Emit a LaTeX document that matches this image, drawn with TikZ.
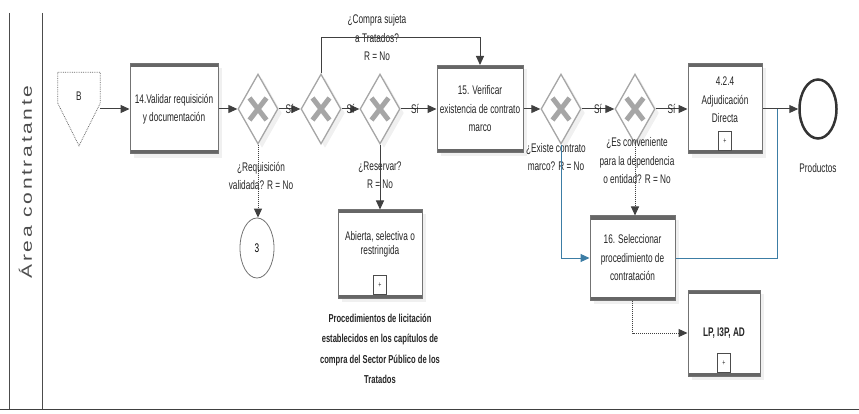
\documentclass[tikz,border=0pt]{standalone}
\usepackage{fontspec}
\setmainfont[FakeStretch=0.66]{Liberation Sans}
\newfontfamily\lanefont[LetterSpace=18,FakeStretch=1.4]{Liberation Sans}
\usetikzlibrary{arrows.meta,shapes.geometric,shadows,positioning}

\newcommand\bpmnfont{\fontsize{12.5}{18.5}\selectfont}
\definecolor{lineblue}{RGB}{60,125,165}

\tikzset{
  task/.style={draw=black!55, line width=1pt, fill=white, align=center, inner sep=2pt,
    font=\bpmnfont, text=black!85,
    drop shadow={opacity=0.12, shadow xshift=4pt, shadow yshift=-4pt},
    path picture={
      \fill[black!60] (path picture bounding box.north west) rectangle ([yshift=-3.5pt]path picture bounding box.north east);
      \fill[black!60] (path picture bounding box.south west) rectangle ([yshift=3.5pt]path picture bounding box.south east);
    }},
  subp/.style={draw=black!70, line width=1.3pt, fill=white, minimum width=13pt, minimum height=19pt,
    inner sep=0pt, anchor=south, font=\footnotesize, text=black!80},
  gate/.style={diamond, draw=black!35, line width=1.3pt, fill=white, minimum width=40pt, minimum height=70pt,
    inner sep=0pt, drop shadow={opacity=0.12, shadow xshift=4pt, shadow yshift=-4pt},
    path picture={
      \draw[black!35, line width=5pt] ([xshift=-8.5pt,yshift=-11pt]path picture bounding box.center) -- ([xshift=8.5pt,yshift=11pt]path picture bounding box.center);
      \draw[black!35, line width=5pt] ([xshift=-8.5pt,yshift=11pt]path picture bounding box.center) -- ([xshift=8.5pt,yshift=-11pt]path picture bounding box.center);
    }},
  cond/.style={align=center, font=\bpmnfont, text=black!85, inner sep=1pt},
  yes/.style={font=\bpmnfont, text=black!85, inner sep=0pt},
  flow/.style={draw=black!75, line width=1pt, -{Triangle[length=9pt,width=8pt]}},
  dotflow/.style={flow, densely dotted},
  blueline/.style={draw=lineblue, line width=1pt}
}

\begin{document}
\begin{tikzpicture}[x=1pt, y=-1pt]
\useasboundingbox (0,0) rectangle (859,414);

% Lane frame and its name
\draw[black!70, line width=1pt] (9,13) -- (9,409);
\draw[black!70, line width=1pt] (42,13) -- (42,409);
\draw[black!75, line width=1.5pt] (0,409.5) -- (859,409.5);
\node[rotate=90, font=\lanefont\fontsize{15}{18}\selectfont, text=black!70] (lane) at (25.5,182) {Área contratante};

% Off-page connector B
\node[minimum width=42pt, minimum height=73pt, inner sep=0pt] (b) at (79,109) {};
\draw[black!60, line width=0.8pt, densely dotted] (b.north west) -- (b.north east) -- ++(0,31) -- (b.south) -- ([yshift=-31pt]b.north west) -- cycle;
\node[font=\bpmnfont, text=black!85] (bl) at (79,96) {B};

% Tasks
\node[task, minimum width=88pt, minimum height=90pt] (t14) at (174,109) {14.Validar requisición\\y documentación};
\node[task, minimum width=86pt, minimum height=87pt] (t15) at (480,109) {15. Verificar\\existencia de contrato\\marco};
\node[task, minimum width=74pt, minimum height=90pt] (t424) at (725,109) {4.2.4\\Adjudicación\\Directa\\ \mbox{}};
\node[subp] (m424) at ([yshift=3.5pt]t424.south) {+};
\node[task, minimum width=85pt, minimum height=84pt] (t16) at (632.5,258) {16. Seleccionar\\procedimiento de\\contratación};
\node[task, minimum width=84pt, minimum height=88pt, font=\fontsize{12.5}{14}\selectfont] (tab) at (380,254) {Abierta, selectiva o\\restringida\\[9pt] \mbox{}};
\node[subp] (mab) at ([yshift=3.5pt]tab.south) {+};
\node[task, minimum width=72pt, minimum height=86pt, font=\bpmnfont\bfseries] (tlp) at (724,333) {LP, I3P, AD};
\node[subp] (mlp) at ([yshift=3.5pt]tlp.south) {+};

% Gateways
\node[gate] (g1) at (258,109) {};
\node[gate] (g2) at (321,109) {};
\node[gate] (g3) at (380,109) {};
\node[gate] (g4) at (561,109) {};
\node[gate] (g5) at (635,109) {};

% Events
\node[ellipse, draw=black!55, line width=0.8pt, minimum width=34pt, minimum height=60pt, font=\bpmnfont] (c3) at (257,248) {3};
\node[ellipse, draw=black!80, line width=2.5pt, minimum width=37pt, minimum height=59pt,
  label={[cond, label distance=22pt]below:Productos}] (fin) at (818,109) {};

% Conditions
\node[cond] (lq1) at (261,176) {¿Requisición\\validada? R = No};
\node[cond] (lq2) at (377,38) {¿Compra sujeta\\a Tratados?\\R = No};
\node[cond] (lq3) at (380,175) {¿Reservar?\\R = No};
\node[cond] (lq4) at (556,157) {¿Existe contrato\\marco? R = No};
\node[cond] (lq5) at (637,161) {¿Es conveniente\\para la dependencia\\o entidad? R = No};
\node[align=center, font=\fontsize{11.5}{20.5}\selectfont\bfseries, text=black!85] (lab) at (380,349)
  {Procedimientos de licitación\\establecidos en los capítulos de\\compra del Sector Público de los\\Tratados};

% Sequence flow
\coordinate (ctop) at (400,38);
\coordinate (jn) at (777,109);
\draw[flow] (b.east) -- (t14.west);
\draw[flow] (t14.east) -- (g1.west);
\draw[flow] (g1.east) -- node[yes] {Sí} (g2.west);
\draw[flow] (g2.east) -- node[yes] {Sí} (g3.west);
\draw[flow] (g3.east) -- node[yes, pos=0.4] {Sí} (t15.west);
\draw[flow] (t15.east) -- (g4.west);
\draw[flow] (g4.east) -- node[yes] {Sí} (g5.west);
\draw[flow] (g5.east) -- node[yes] {Sí} (t424.west);
\draw[flow] (t424.east) -- (fin.west);
\draw[flow] (g2.north) |- (ctop -| t15.north) -- (t15.north);
\draw[flow] (g3.south) -- (tab.north);
\draw[dotflow] (g1.south) -- (g1.south |- c3.north);
\draw[dotflow] (g5.south) -- (g5.south |- t16.north);
\draw[blueline, -{Triangle[length=9pt,width=8pt]}] (g4.south) |- (t16.west);
\draw[blueline] (t16.east) -| (jn);
\draw[dotflow] (t16.south) |- (tlp.west);
\end{tikzpicture}
\end{document}
